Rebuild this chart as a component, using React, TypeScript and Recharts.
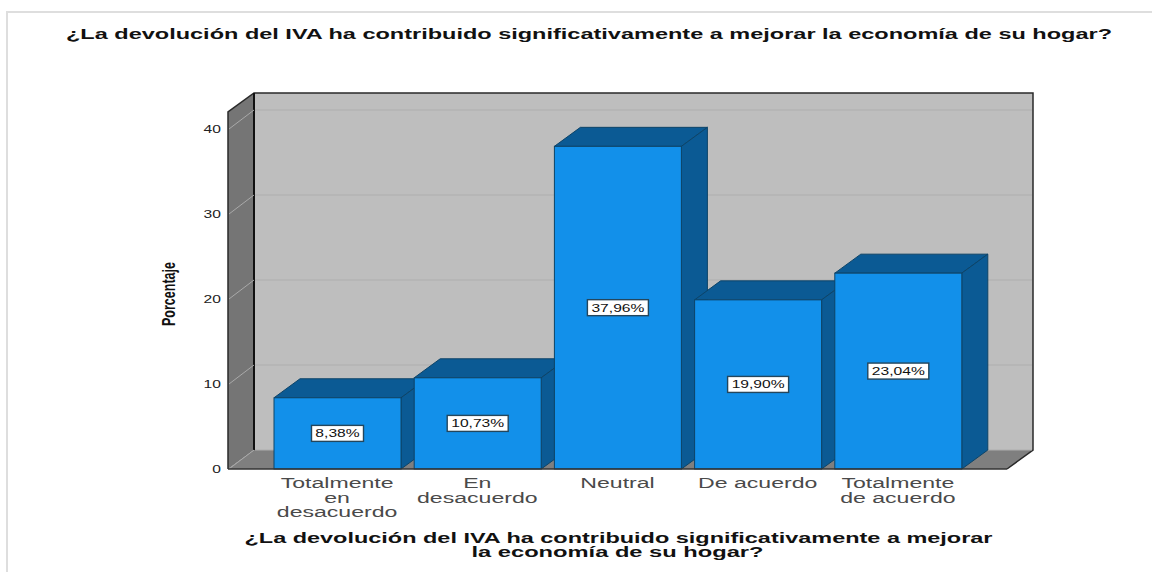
import { BarChart, Bar, XAxis, YAxis, ReferenceArea, LabelList, Label } from 'recharts';

const FONT = '"Liberation Sans", Arial, sans-serif';

const categories = ['Totalmente\nen\ndesacuerdo', 'En\ndesacuerdo', 'Neutral', 'De acuerdo', 'Totalmente\nde acuerdo'];
const percentages = [8.38, 10.73, 37.96, 19.9, 23.04];
const yTicks = [0, 10, 20, 30, 40];
const titleText = '¿La devolución del IVA ha contribuido significativamente a mejorar la economía de su hogar?';
const axisTitleLines = ['¿La devolución del IVA ha contribuido significativamente a mejorar', 'la economía de su hogar?'];

const data = categories.map((name, i) => ({ name, value: percentages[i] }));

// depth of the fake 3D box
const DX = 26;
const DY = 19;
// the x axis padding, reference areas only span the padded range
const PAD = 39;

const pts = (list: number[][]) => list.map((p) => p.join(',')).join(' ');

const Walls = ({ x: px, y, width: pw, height }: any) => {
  const x = px - PAD;
  const width = pw + PAD * 2;
  const r = x + width;
  const b = y + height;
  return (
    <g>
      <rect x={x + DX} y={y - DY} width={width} height={height} fill="#bebebe" />
      <polygon points={pts([[x, y], [x + DX, y - DY], [x + DX, b - DY], [x, b]])} fill="#757575" />
      <polygon points={pts([[x, b], [x + DX, b - DY], [r + DX, b - DY], [r, b]])} fill="#7f7f7f" />
      <polyline points={pts([[x, b], [x, y], [x + DX, y - DY], [r + DX, y - DY], [r + DX, b - DY], [r, b]])} fill="none" stroke="#2a2a2a" strokeWidth={1.5} />
      <line x1={x + DX} y1={y - DY} x2={x + DX} y2={b - DY} stroke="#111" strokeWidth={2} />
    </g>
  );
};

const GridLine = ({ x: px, y, width: pw }: any) => {
  const x = px - PAD;
  const width = pw + PAD * 2;
  return (
    <g>
      <line x1={x + 1} y1={y} x2={x + DX} y2={y - DY} stroke="#a9a9a9" />
      <line x1={x + DX + 1} y1={y - DY} x2={x + width + DX - 1} y2={y - DY} stroke="#aeaeae" />
    </g>
  );
};

const Bar3D = ({ x, y, width, height }: any) => {
  const r = x + width;
  const b = y + height;
  return (
    <g stroke="#0d4468" strokeWidth={1}>
      <polygon points={pts([[x, y], [x + DX, y - DY], [r + DX, y - DY], [r, y]])} fill="#0b5a94" />
      <polygon points={pts([[r, y], [r + DX, y - DY], [r + DX, b - DY], [r, b]])} fill="#0b5a94" />
      <rect x={x} y={y} width={width} height={height} fill="#1290ea" />
    </g>
  );
};

const ValueLabel = ({ x, y, width, height, value }: any) => {
  const text = value.toFixed(2).replace('.', ',') + '%';
  const digits = text.length - 2;
  const w = 25 + digits * 9;
  const cx = x + width / 2;
  const cy = y + height / 2;
  return (
    <g>
      <rect x={cx - w / 2} y={cy - 8} width={w} height={16} fill="#fff" stroke="#24465c" strokeWidth={1.4} />
      <text transform={`translate(${cx},${cy + 4}) scale(1.42,1)`} textAnchor="middle" fontFamily={FONT} fontSize={11} fill="#111">
        {text}
      </text>
    </g>
  );
};

const CategoryTick = ({ x, y, payload }: any) => (
  <g>
    {String(payload.value).split('\n').map((line, i) => (
      <text key={line} transform={`translate(${x},${y + 11 + i * 14.5}) scale(1.65,1)`} textAnchor="middle" fontFamily={FONT} fontSize={14} fill="#4a4a4a">
        {line}
      </text>
    ))}
  </g>
);

const ValueTick = ({ x, y, payload }: any) => (
  <text transform={`translate(${x + 1},${y + 4}) scale(1.42,1)`} textAnchor="end" fontFamily={FONT} fontSize={11} fill="#222">
    {payload.value}
  </text>
);

const App = () => (
  <div style={{ position: 'absolute', left: 0, top: 0, width: 1152, height: 572, background: '#fff', overflow: 'hidden' }}>
    <div style={{ position: 'absolute', left: 6, top: 11, right: -4, bottom: -4, border: '2px solid #dedede' }} />
    <BarChart
      width={1152}
      height={572}
      data={data}
      margin={{ top: 112, right: 145, bottom: 0, left: 0 }}
      barSize={127}
      style={{ position: 'absolute', left: 0, top: 0 }}
    >
      <ReferenceArea y1={0} y2={42} shape={<Walls />} fill="none" stroke="none" />
      {yTicks.map((t) => (
        <ReferenceArea key={t} y1={t} y2={t} shape={<GridLine />} fill="none" stroke="none" />
      ))}
      <XAxis
        dataKey="name"
        interval={0}
        padding={{ left: PAD, right: PAD }}
        tick={<CategoryTick />}
        tickLine={false}
        axisLine={{ stroke: '#333', strokeWidth: 1.5 }}
        height={103}
      >
        <Label
          content={() => (
            <g fontFamily={FONT} fontSize={14.5} fontWeight="bold" fill="#111" textAnchor="middle">
              <text x={618.5} y={543} textLength={748} lengthAdjust="spacingAndGlyphs">{axisTitleLines[0]}</text>
              <text x={617.5} y={557} textLength={292} lengthAdjust="spacingAndGlyphs">{axisTitleLines[1]}</text>
            </g>
          )}
        />
      </XAxis>
      <YAxis
        domain={[0, 42]}
        ticks={yTicks}
        width={228}
        tick={<ValueTick />}
        tickLine={false}
        axisLine={false}
      >
        <Label
          content={() => (
            <text
              transform="translate(175,326) rotate(-90)"
              fontFamily={FONT}
              fontSize={19}
              fontWeight="bold"
              fill="#111"
              textLength={64}
              lengthAdjust="spacingAndGlyphs"
            >
              Porcentaje
            </text>
          )}
        />
      </YAxis>
      <Bar dataKey="value" shape={<Bar3D />} isAnimationActive={false}>
        <LabelList dataKey="value" content={<ValueLabel />} />
      </Bar>
      <text x={589} y={39} textAnchor="middle" fontFamily={FONT} fontSize={15} fontWeight="bold" fill="#111" textLength={1046} lengthAdjust="spacingAndGlyphs">
        {titleText}
      </text>
    </BarChart>
  </div>
);

export default App;
